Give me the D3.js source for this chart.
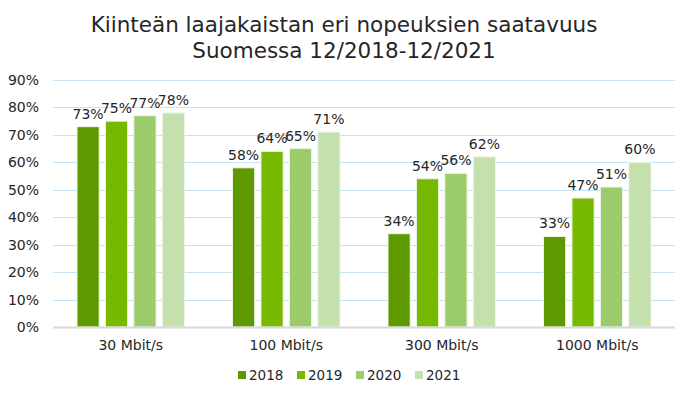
<!DOCTYPE html>
<html>
<head>
<meta charset="utf-8">
<script src="https://cdn.jsdelivr.net/npm/d3@7"></script>
<style>
  body { margin: 0; background: #fff; }
  text { font-family: Verdana, "DejaVu Sans", sans-serif; fill: #262626; }
</style>
</head>
<body>
<div id="chart"></div>
<script>
// Chart data
const categories = ['30 Mbit/s', '100 Mbit/s', '300 Mbit/s', '1000 Mbit/s'];
const years = ['2018', '2019', '2020', '2021'];
const values2018 = [73, 58, 34, 33];
const values2019 = [75, 64, 54, 47];
const values2020 = [77, 65, 56, 51];
const values2021 = [78, 71, 62, 60];
const yTicks = [0, 10, 20, 30, 40, 50, 60, 70, 80, 90];
const titleLines = ['Kiinteän laajakaistan eri nopeuksien saatavuus', 'Suomessa 12/2018-12/2021'];

const series = [values2018, values2019, values2020, values2021];
const colors = ['#5f9900', '#77b800', '#9bcb6a', '#c4e0ad'];

const width = 688;
const height = 396;
const margin = { top: 80, right: 13, bottom: 69, left: 53 };
const innerW = width - margin.left - margin.right;
const innerH = height - margin.top - margin.bottom;

const svg = d3.select('#chart')
    .append('svg')
    .attr('width', width)
    .attr('height', height);

// Title
svg.append('text')
    .attr('x', width / 2)
    .attr('y', 32)
    .attr('text-anchor', 'middle')
    .style('font-size', '21.5px')
    .selectAll('tspan')
    .data(titleLines)
    .join('tspan')
    .attr('x', width / 2)
    .attr('dy', (d, i) => (i === 0 ? 0 : 26))
    .text((d) => d);

const chart = svg.append('g')
    .attr('transform', `translate(${margin.left},${margin.top})`);

const yScale = d3.scaleLinear().domain([0, 90]).range([innerH, 0]);
const x0 = d3.scaleBand().domain(categories).range([0, innerW]).paddingInner(0).paddingOuter(0);
const x1 = d3.scaleBand().domain(years).range([24, x0.bandwidth() - 24]).paddingInner(0.22).paddingOuter(0);

// Gridlines
chart.append('g')
    .selectAll('line')
    .data(yTicks.filter((d) => d > 0))
    .join('line')
    .attr('x1', 0)
    .attr('x2', innerW)
    .attr('y1', (d) => Math.round(yScale(d)) + 0.5)
    .attr('y2', (d) => Math.round(yScale(d)) + 0.5)
    .attr('stroke', '#c6e3f5')
    .attr('stroke-width', 1);

// Y axis labels
const yAxis = chart.append('g')
    .call(d3.axisLeft(yScale).tickValues(yTicks).tickFormat((d) => d + '%').tickSize(0).tickPadding(14));
yAxis.select('.domain').remove();
yAxis.selectAll('text')
    .style('font-size', '14px')
    .style('font-family', 'Verdana, "DejaVu Sans", sans-serif')
    .attr('fill', '#262626');

// Bars
const groups = chart.append('g')
    .selectAll('g')
    .data(categories)
    .join('g')
    .attr('transform', (d) => `translate(${x0(d)},0)`);

groups.selectAll('rect')
    .data((d, ci) => years.map((y, si) => ({ year: y, si: si, value: series[si][ci] })))
    .join('rect')
    .attr('x', (d) => x1(d.year))
    .attr('y', (d) => yScale(d.value))
    .attr('width', x1.bandwidth())
    .attr('height', (d) => innerH - yScale(d.value))
    .attr('fill', (d) => colors[d.si])
    .attr('stroke', '#eef5e6')
    .attr('stroke-width', 1);

groups.selectAll('.bar-label')
    .data((d, ci) => years.map((y, si) => ({ year: y, si: si, value: series[si][ci] })))
    .join('text')
    .attr('class', 'bar-label')
    .attr('x', (d) => x1(d.year) + x1.bandwidth() / 2)
    .attr('y', (d) => yScale(d.value) - 8)
    .attr('text-anchor', 'middle')
    .style('font-size', '14px')
    .text((d) => d.value + '%');

// Baseline
chart.append('line')
    .attr('x1', 0)
    .attr('x2', innerW)
    .attr('y1', innerH + 0.5)
    .attr('y2', innerH + 0.5)
    .attr('stroke', '#d9d9d9')
    .attr('stroke-width', 2);

// Category labels
const xAxis = chart.append('g')
    .attr('transform', `translate(0,${innerH})`)
    .call(d3.axisBottom(x0).tickSize(0).tickPadding(13));
xAxis.select('.domain').remove();
xAxis.selectAll('text')
    .style('font-size', '14px')
    .style('font-family', 'Verdana, "DejaVu Sans", sans-serif')
    .attr('fill', '#262626');

// Legend
const legend = svg.append('g')
    .attr('transform', 'translate(238,375)');

const legendItems = legend.selectAll('g')
    .data(years)
    .join('g')
    .attr('transform', (d, i) => `translate(${i * 59},0)`);

legendItems.append('rect')
    .attr('x', 0)
    .attr('y', -4)
    .attr('width', 8)
    .attr('height', 8)
    .attr('fill', (d, i) => colors[i]);

legendItems.append('text')
    .attr('x', 11)
    .attr('y', 0)
    .attr('dy', '0.35em')
    .style('font-size', '13.5px')
    .text((d) => d);
</script>
</body>
</html>
